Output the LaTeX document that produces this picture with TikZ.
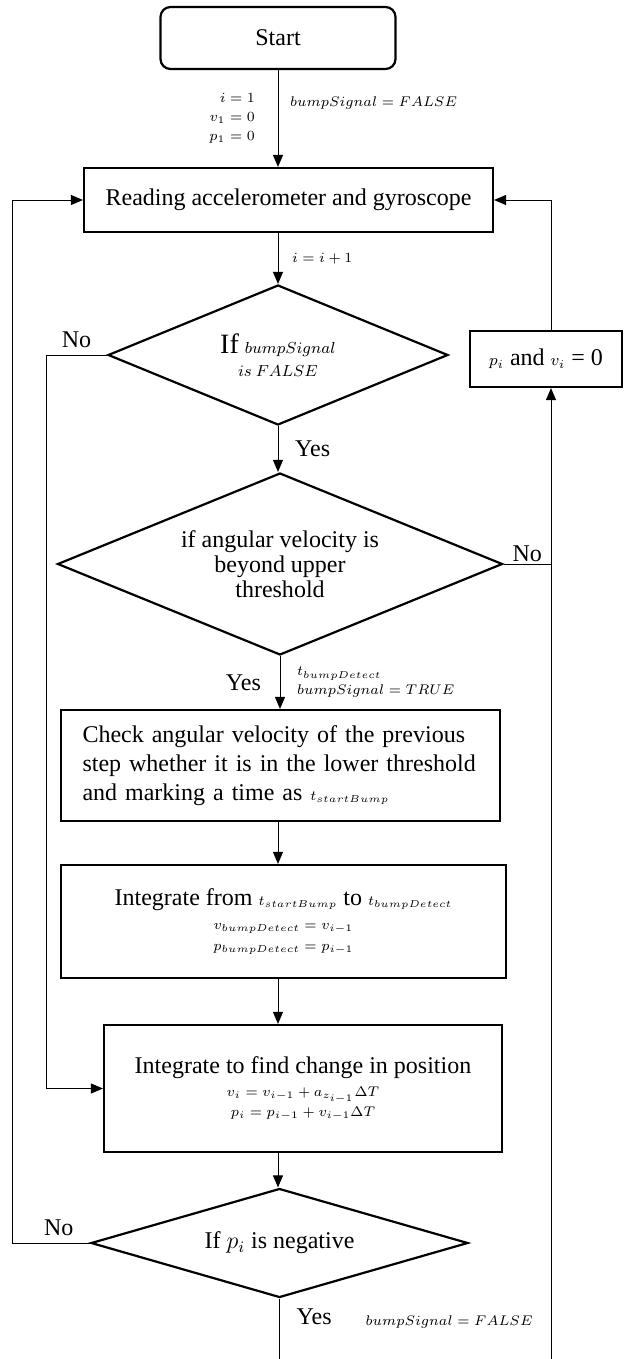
\documentclass[tikz,border=0pt]{standalone}
\usepackage{fontspec}
\setmainfont{Liberation Serif}
\usetikzlibrary{arrows.meta,shapes.geometric,positioning}

\newcommand\notesize{\fontsize{7.3}{9.5}\selectfont}

\tikzset{
  box/.style={draw,line width=1.1pt,inner sep=0pt,align=center},
  decision/.style={draw,diamond,line width=1.1pt,inner sep=0pt,align=center},
  flow/.style={line width=0.5pt,-{Triangle[length=6pt,width=5pt]}},
  link/.style={line width=0.5pt},
  note/.style={font=\notesize,align=left}
}

\begin{document}
\begin{tikzpicture}[x=0.5pt,y=-0.5pt,font=\fontsize{12}{14.4}\selectfont]% bump detection flow
        \useasboundingbox (0,0) rectangle (625,1359);
        \node[box,rounded corners=5pt,minimum width=117.5pt,minimum height=31pt] (start) at (278,38) {Start};
        \node[box,minimum width=204.5pt,minimum height=32pt] (read) at (288.5,200) {Reading accelerometer and gyroscope};
        \node[decision,minimum width=170pt,minimum height=70pt,aspect=2.4] (bump) at (278,355)
                {{\fontsize{14}{16}\selectfont If} {\footnotesize$bumpSignal$}\\[-3pt]{\footnotesize$is\ FALSE$}};
        \node[box,minimum width=76pt,minimum height=28pt] (reset) at (546,359)
                {{\footnotesize$p_i$} and {\footnotesize$v_i$} = 0};
        \node[decision,minimum width=222.5pt,minimum height=91pt,aspect=2.44,font=\fontsize{12}{12.5}\selectfont] (angle) at (280,564)
                {if angular velocity is\\beyond upper\\threshold};
        \node[box,minimum width=219.5pt,minimum height=55.5pt,text width=198pt,align=left] (check) at (280.5,765.5)
                {Check angular velocity of the previous\\step whether it is in the lower threshold\\and marking a time as {\notesize$t_{startBump}$}};
        \node[box,minimum width=222.5pt,minimum height=56.5pt] (integ) at (283.5,921.5)
                {Integrate from {\notesize$t_{startBump}$} to {\notesize$t_{bumpDetect}$}\\[-2.4pt]
                {\notesize$v_{bumpDetect}=v_{i-1}$}\\[-4pt]{\notesize$p_{bumpDetect}=p_{i-1}$}};
        \node[box,minimum width=199pt,minimum height=63.5pt] (update) at (303,1088.5)
                {Integrate to find change in position\\[-3pt]
                {\notesize$v_i=v_{i-1}+a_{z_{i-1}}\Delta T$}\\[-4pt]{\notesize$p_i=p_{i-1}+v_{i-1}\Delta T$}};
        \node[decision,minimum width=188.5pt,minimum height=54.5pt,aspect=3.46] (neg) at (279.5,1243)
                {If $p_i$ is negative};
        % loop lines and page edge
        \coordinate (spine) at (278,0);
        \coordinate (leftA) at (46,0);
        \coordinate (leftB) at (12,0);
        \coordinate (rightA) at (551,0);
        \coordinate (edge) at (0,1359);
        % main flow
        \draw[flow] (start.south) -- node[note,left,align=right,xshift=-8pt]{$i=1$\\$v_1=0$\\$p_1=0$}
                node[note,right,pos=0.34,xshift=2.5pt]{$bumpSignal=FALSE$} (start.south |- read.north);
        \draw[flow] (spine |- read.south) -- node[note,right,xshift=3.5pt]{$i=i+1$} (spine |- bump.north);
        \draw[flow] (bump.south) -- node[right,xshift=5pt]{Yes} (bump.south |- angle.north);
        \draw[flow] (angle.south) -- node[left,xshift=-6pt]{Yes}
                node[note,right,xshift=5pt]{$t_{bumpDetect}$\\$bumpSignal=TRUE$} (angle.south |- check.north);
        \draw[flow] (spine |- check.south) -- (spine |- integ.north);
        \draw[flow] (spine |- integ.south) -- (spine |- update.north);
        \draw[flow] (spine |- update.south) -- (spine |- neg.north);
        % branches
        \draw[flow] (bump.west) -- node[above]{No} (leftA |- bump.west) |- (update.west);
        \draw[link] (angle.east) -- node[above,inner sep=1pt]{No} (rightA |- angle.east);
        \draw[flow] (rightA |- edge) -- (rightA |- reset.south);
        \draw[flow] (rightA |- reset.north) |- (read.east);
        \draw[flow] (neg.west) -- node[above,pos=0.4]{No} (leftB |- neg.west) |- (read.west);
        \draw[link] (neg.south) -- node[right,pos=0.3,xshift=5pt]{Yes}
                node[note,right,pos=0.38,xshift=39.5pt]{$bumpSignal=FALSE$} (neg.south |- edge);
\end{tikzpicture}
\end{document}
